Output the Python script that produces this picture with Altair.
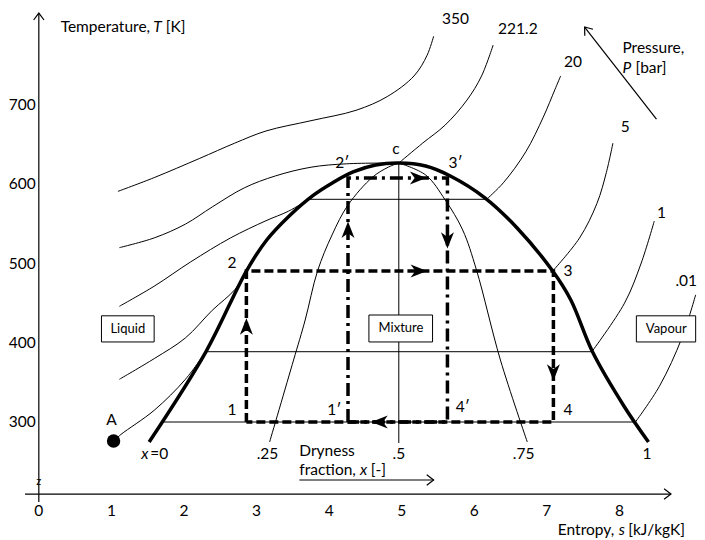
import altair as alt
import pandas as pd

# ---------------- data (s in kJ/kgK, T in K) ----------------
S_TICKS = [0, 1, 2, 3, 4, 5, 6, 7, 8]
T_TICKS = [300, 400, 500, 600, 700]

DOME_S = [1.52, 2.30, 2.86, 3.14, 3.45, 3.78, 4.05, 4.33, 4.64, 4.96, 5.33, 5.67, 6.15, 6.59, 7.08, 7.33, 7.63, 8.07, 8.40]
DOME_T = [274.8, 388.3, 490.5, 529.7, 560, 586, 602, 615.5, 624.3, 626.8, 623, 610.4, 582.6, 544.8, 490.5, 454, 388.3, 319, 274.8]

P350_S = [1.09, 1.59, 2.21, 2.70, 3.13, 3.75, 4.37, 4.80, 5.17, 5.35, 5.44]
P350_T = [591, 608.4, 632.4, 651.9, 667.2, 680.2, 693.3, 710.6, 736.7, 762.8, 786.8]

P221_LS = [1.11, 1.59, 2.02, 2.39, 2.83, 3.26, 3.75, 4.24, 4.96]
P221_LT = [520, 532.3, 549.7, 571.4, 595.4, 610.5, 621.5, 625.8, 626.8]
P221_RS = [4.96, 5.29, 5.60, 5.90, 6.10, 6.26]
P221_RT = [626.8, 652, 674.8, 706.3, 736.6, 775.7]

P20_LS = [1.11, 1.59, 2.09, 2.64, 3.13, 3.44, 3.72]
P20_LT = [446, 471.4, 501.9, 532.2, 554, 566, 581]
P20_HS = [3.72, 6.17]
P20_HT = [581, 581]
P20_RS = [6.17, 6.40, 6.71, 6.95, 7.11, 7.19]
P20_RT = [581, 601.8, 641, 684.6, 719.3, 736.7]

P5_LS = [1.11, 1.59, 2.02, 2.39, 2.70, 2.86]
P5_LT = [353.9, 380, 406.1, 441, 467, 490.5]
P5_RS = [7.08, 7.45, 7.69, 7.82, 7.91]
P5_RT = [490.5, 532.2, 575.8, 615, 651.9]

P1_LS = [1.03, 1.13, 1.59, 2.02, 2.30]
P1_LT = [276, 284.2, 314.8, 353.9, 388.7]
P1_HS = [2.30, 7.62]
P1_HT = [388.7, 388.7]
P1_RS = [7.62, 8.07, 8.30, 8.48]
P1_RT = [388.7, 450, 500.6, 553.6]

P001_HS = [1.70, 8.22]
P001_HT = [300, 300]
P001_RS = [8.22, 8.55, 8.86, 9.05]
P001_RT = [300, 345, 406, 460.5]

X25_S = [3.18, 3.51, 3.67, 3.84, 4.04, 4.26, 4.60, 4.82, 4.96]
X25_T = [274.8, 378.2, 428.7, 490.5, 536, 573.8, 609.1, 621.8, 626.8]
X50_S = [4.96, 4.96]
X50_T = [626.8, 273.5]
X75_S = [4.96, 5.33, 5.60, 5.84, 6.03, 6.36, 6.73]
X75_T = [626.8, 611.7, 580.1, 542.3, 491.8, 378.2, 274.8]

CYC_S = [2.86, 2.86, 7.09, 7.09, 2.86]
CYC_T = [300, 490.5, 490.5, 300, 300]
CYC2_S = [4.26, 4.26, 5.63, 5.63, 4.26]
CYC2_T = [300, 608, 608, 300, 300]

ARR_S = [2.86, 5.23, 7.09, 4.70, 4.26, 5.22, 5.63]
ARR_T = [420, 490.5, 363, 300, 542, 608, 529.7]
ARR_DIR = [0, 90, 180, 270, 0, 90, 180]

YAX_S, YAX_T = [0, 0], [199, 816]
XAX_S, XAX_T = [-0.19, 8.71], [209.1, 209.1]
PRS_S, PRS_T = [8.51, 7.52], [682.3, 798.4]
DRY_S, DRY_T = [3.59, 5.44], [226.8, 226.8]
CHEV_S = [0, 8.71, 7.52, 5.44]
CHEV_T = [816, 209.1, 798.4, 226.8]
CHEV_DIR = [0, 90, 322, 90]

BOX_LABELS = ["Liquid", "Mixture", "Vapour"]
BOX_S1 = [0.863, 4.548, 8.233]
BOX_S2 = [1.589, 5.425, 9.05]
BOX_T1 = [401, 401, 401]
BOX_T2 = [434, 435, 434]
BOX_TS = [1.226, 4.99, 8.645]

A_S, A_T = [1.03], [276]

# --------------- build tables ----------------
rows = []
def add(name, group, S, T):
    for i, (s, t) in enumerate(zip(S, T)):
        rows.append(dict(seg=name, group=group, ord=i, s=s, T=t))

add("p350", "thin", P350_S, P350_T)
add("p221l", "thin", P221_LS, P221_LT)
add("p221r", "thin", P221_RS, P221_RT)
add("p20l", "thin", P20_LS, P20_LT)
add("p20h", "thin", P20_HS, P20_HT)
add("p20r", "thin", P20_RS, P20_RT)
add("p5l", "thin", P5_LS, P5_LT)
add("p5r", "thin", P5_RS, P5_RT)
add("p1l", "thin", P1_LS, P1_LT)
add("p1h", "thin", P1_HS, P1_HT)
add("p1r", "thin", P1_RS, P1_RT)
add("p001h", "thin", P001_HS, P001_HT)
add("p001r", "thin", P001_RS, P001_RT)
add("x25", "thin", X25_S, X25_T)
add("x50", "thin", X50_S, X50_T)
add("x75", "thin", X75_S, X75_T)
add("yax", "axis", YAX_S, YAX_T)
add("xax", "axis", XAX_S, XAX_T)
add("prs", "axis", PRS_S, PRS_T)
add("dry", "axis", DRY_S, DRY_T)
add("dome", "dome", DOME_S, DOME_T)
add("cyc", "cyc", CYC_S, CYC_T)
add("cyc2", "cyc2", CYC2_S, CYC2_T)
lines = pd.DataFrame(rows)

arrows = pd.DataFrame(dict(s=ARR_S, T=ARR_T, dir=ARR_DIR))
chev = pd.DataFrame(dict(s=CHEV_S, T=CHEV_T, dir=CHEV_DIR))
boxes = pd.DataFrame(dict(label=BOX_LABELS, s1=BOX_S1, s2=BOX_S2, t1=BOX_T1, t2=BOX_T2, ts=BOX_TS,
                          tm=[(a + b) / 2 for a, b in zip(BOX_T1, BOX_T2)]))
dot = pd.DataFrame(dict(s=A_S, T=A_T))

# text annotations
center_txt = pd.DataFrame([
    *[dict(text=str(v), s=v, T=187.7) for v in S_TICKS],
    dict(text="350", s=5.74, T=808.5),
    dict(text="221.2", s=6.60, T=795.9),
    dict(text="20", s=7.36, T=754.3),
    dict(text="5", s=8.08, T=672.2),
    dict(text="1", s=8.58, T=563.7),
    dict(text=".01", s=8.92, T=477.9),
    dict(text="c", s=4.92, T=644.5),
    dict(text="2\u2032", s=4.18, T=626.8),
    dict(text="3\u2032", s=5.74, T=626.8),
    dict(text="2", s=2.66, T=500.6),
    dict(text="3", s=7.29, T=490.5),
    dict(text="1", s=2.66, T=315.1),
    dict(text="1\u2032", s=4.07, T=315.1),
    dict(text="4\u2032", s=5.84, T=318.9),
    dict(text="4", s=7.29, T=315.1),
    dict(text="A", s=1.0, T=302.5),
    dict(text=".25", s=3.15, T=259.6),
    dict(text=".5", s=4.96, T=259.6),
    dict(text=".75", s=6.68, T=259.6),
    dict(text="1", s=8.38, T=259.6),
])
right_txt = pd.DataFrame([dict(text=str(v), s=-0.041, T=v) for v in T_TICKS])
left_txt = pd.DataFrame([
    dict(text="Temperature,", s=0.301, T=798.4),
    dict(text="[K]", s=1.75, T=798.4),
    dict(text="Entropy,", s=7.151, T=163.7),
    dict(text="[kJ/kgK]", s=8.12, T=163.7),
    dict(text="Pressure,", s=8.041, T=771.9),
    dict(text="[bar]", s=8.22, T=746.7),
    dict(text="Dryness", s=3.589, T=263.4),
    dict(text="fraction,", s=3.589, T=239.4),
    dict(text="[-]", s=4.575, T=239.4),
    dict(text="=0", s=1.534, T=259.6),
])
ital_txt = pd.DataFrame([
    dict(text="T", s=1.575, T=798.4),
    dict(text="s", s=7.99, T=163.7),
    dict(text="P", s=8.041, T=746.7),
    dict(text="x", s=4.425, T=239.4),
    dict(text="x", s=1.411, T=259.6),
])
z_txt = pd.DataFrame([dict(text="z", s=0.0, T=224.3)])

# --------------- scales ----------------
# reference page mapping: px = 41 + 73*s ; py = 422 - 0.7925*(T-300)
W, H = 689, 532
PX_PER_S = 73.0
PX_PER_K = 0.7925
S0 = (10 - 41) / PX_PER_S
S1 = (703 - 41) / PX_PER_S
T1 = 300 + (422 - 8) / PX_PER_K
T0 = T1 - H / PX_PER_K
xs = alt.Scale(domain=[S0, S1], nice=False, zero=False)
ys = alt.Scale(domain=[T0, T1], nice=False, zero=False)
X = alt.X("s:Q", scale=xs, axis=None)
Y = alt.Y("T:Q", scale=ys, axis=None)
FONT = "Lato"
FS = 15.5

def line_layer(group, **kw):
    return alt.Chart(lines[lines.group == group]).mark_line(color="black", **kw).encode(
        x=X, y=Y, detail="seg:N", order="ord:Q")

thin = line_layer("thin", strokeWidth=1, interpolate="catmull-rom")
axis = line_layer("axis", strokeWidth=1.2)
dome = line_layer("dome", strokeWidth=3.5, interpolate="catmull-rom", strokeCap="butt")
cyc = line_layer("cyc", strokeWidth=3.5, strokeDash=[9, 4])
cyc2 = line_layer("cyc2", strokeWidth=3.5, strokeDash=[13, 5, 3, 5])

ARROW_PATH = "M0,-1L0.75,0.9L0,0.35L-0.75,0.9Z"
CHEV_PATH = "M-0.6,0.8L0,0L0.6,0.8"
arr = alt.Chart(arrows).mark_point(shape=ARROW_PATH, filled=True, color="black", size=300, opacity=1).encode(
    x=X, y=Y, angle=alt.Angle("dir:Q", scale=None))
chv = alt.Chart(chev).mark_point(shape=CHEV_PATH, filled=False, color="black", strokeWidth=1.2,
                                  size=300, opacity=1).encode(
    x=X, y=Y, angle=alt.Angle("dir:Q", scale=None))

box = alt.Chart(boxes).mark_rect(fill="white", stroke="black", strokeWidth=1).encode(
    x=alt.X("s1:Q", scale=xs, axis=None), x2="s2:Q",
    y=alt.Y("t1:Q", scale=ys, axis=None), y2="t2:Q")
box_txt = alt.Chart(boxes).mark_text(font=FONT, fontSize=13, color="black", baseline="middle").encode(
    x=alt.X("ts:Q", scale=xs, axis=None), y=alt.Y("tm:Q", scale=ys, axis=None), text="label:N")

dotA = alt.Chart(dot).mark_circle(color="black", size=180, opacity=1).encode(x=X, y=Y)

def text_layer(df, **kw):
    return alt.Chart(df).mark_text(font=FONT, color="black", baseline="middle", **kw).encode(
        x=X, y=Y, text="text:N")

tc = text_layer(center_txt, fontSize=FS, align="center")
tr = text_layer(right_txt, fontSize=FS, align="right")
tl = text_layer(left_txt, fontSize=FS, align="left")
ti = text_layer(ital_txt, fontSize=FS, align="left", fontStyle="italic")
tz = text_layer(z_txt, fontSize=11, align="center")

chart = alt.layer(thin, axis, dome, cyc, cyc2, arr, chv, box, box_txt, dotA, tc, tr, tl, ti, tz).properties(
    width=W, height=H, padding=0, autosize=alt.AutoSizeParams(type="none"),
    background="white",
).configure_view(stroke=None)

chart.save("out.html", embed_options={"renderer": "svg", "actions": False})
